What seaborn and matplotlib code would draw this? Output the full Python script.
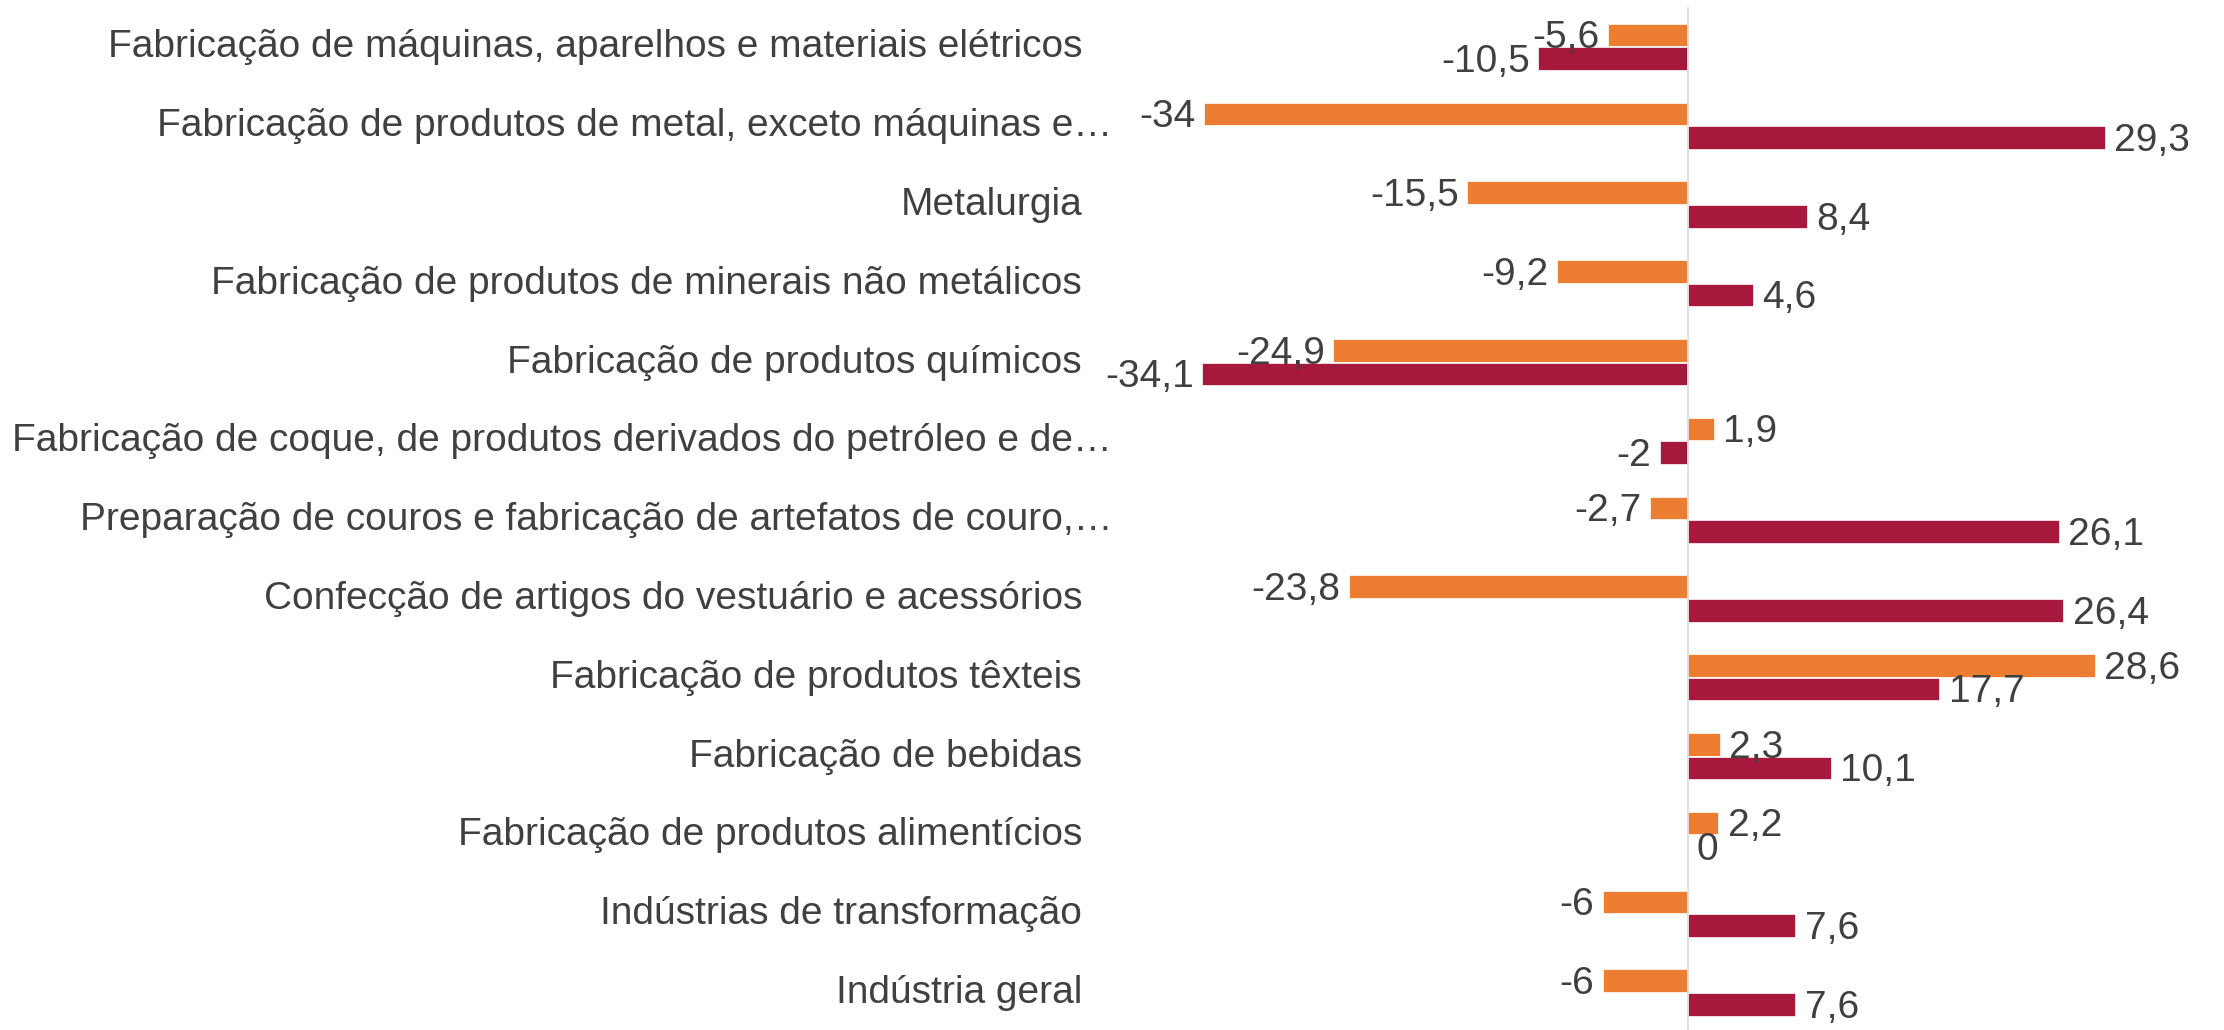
import matplotlib
matplotlib.use("Agg")
import matplotlib.pyplot as plt
import matplotlib.transforms as mtransforms
import numpy as np
import pandas as pd
import seaborn as sns

categories = [
    "Fabricação de máquinas, aparelhos e materiais elétricos",
    "Fabricação de produtos de metal, exceto máquinas e…",
    "Metalurgia",
    "Fabricação de produtos de minerais não metálicos",
    "Fabricação de produtos químicos",
    "Fabricação de coque, de produtos derivados do petróleo e de…",
    "Preparação de couros e fabricação de artefatos de couro,…",
    "Confecção de artigos do vestuário e acessórios",
    "Fabricação de produtos têxteis",
    "Fabricação de bebidas",
    "Fabricação de produtos alimentícios",
    "Indústrias de transformação",
    "Indústria geral",
]
series_names = ["Série 1", "Série 2"]
series_1 = [-5.6, -34, -15.5, -9.2, -24.9, 1.9, -2.7, -23.8, 28.6, 2.3, 2.2, -6, -6]
series_2 = [-10.5, 29.3, 8.4, 4.6, -34.1, -2, 26.1, 26.4, 17.7, 10.1, 0, 7.6, 7.6]
colors = ["#ED7D31", "#A6193C"]

df = pd.DataFrame({
    "Categoria": categories * 2,
    "Valor": series_1 + series_2,
    "Série": [series_names[0]] * len(categories) + [series_names[1]] * len(categories),
})

sns.set_style("white")
plt.rcParams["font.family"] = ["Liberation Sans Narrow", "Liberation Sans", "DejaVu Sans"]
text_color = "#404040"
fs = 28

W, H = 2224, 1030
fig = plt.figure(figsize=(W / 100, H / 100), dpi=100)

# axes geometry in pixels: zero line at x=1688, 14.25 px per unit
zero_px, px_per_unit = 1688, 14.25
left_px, right_px = 1160, 2224
top_px, step_px = 8, 78.8
n = len(categories)
ax = fig.add_axes([
    left_px / W,
    1 - (top_px + n * step_px) / H,
    (right_px - left_px) / W,
    n * step_px / H,
])

sns.barplot(
    data=df, y="Categoria", x="Valor", hue="Série", order=categories,
    hue_order=series_names, palette=colors, orient="h", width=0.6,
    edgecolor="white", linewidth=1.2, saturation=1, legend=False, ax=ax,
)

ax.set_xlim((left_px - zero_px) / px_per_unit, (right_px - zero_px) / px_per_unit)
ax.set_ylim(n - 0.5, -0.5)

for s in ["top", "right", "bottom"]:
    ax.spines[s].set_visible(False)
ax.spines["left"].set_position(("data", 0))
ax.spines["left"].set_color("#D9D9D9")
ax.spines["left"].set_linewidth(1.2)
ax.set_xticks([])
ax.set_yticks(np.arange(n))
ax.set_yticklabels([])
ax.tick_params(axis="y", which="major", length=0)
ax.set_yticks(np.arange(n + 1) - 0.5, minor=True)
ax.tick_params(axis="y", which="minor", length=6, width=1.2, color="#D9D9D9")
ax.set_xlabel("")
ax.set_ylabel("")

# data labels
for container, vals in zip(ax.containers, [series_1, series_2]):
    for bar, v in zip(container, vals):
        yc = bar.get_y() + bar.get_height() / 2
        label = f"{v:g}".replace(".", ",")
        if v < 0:
            ax.annotate(label, (v, yc), xytext=(-6, -2), textcoords="offset points",
                        ha="right", va="center", fontsize=fs, color=text_color)
        else:
            ax.annotate(label, (v, yc), xytext=(6, -2), textcoords="offset points",
                        ha="left", va="center", fontsize=fs, color=text_color)

# category labels
trans = mtransforms.blended_transform_factory(fig.transFigure, ax.transData)
for i, cat in enumerate(categories):
    x_px = 1112 if cat.endswith("…") else 1082
    ax.text(x_px / W, i, cat, transform=trans, ha="right", va="center",
            fontsize=fs, color=text_color, clip_on=False)

fig.savefig("out.png", dpi=100, facecolor="white")
